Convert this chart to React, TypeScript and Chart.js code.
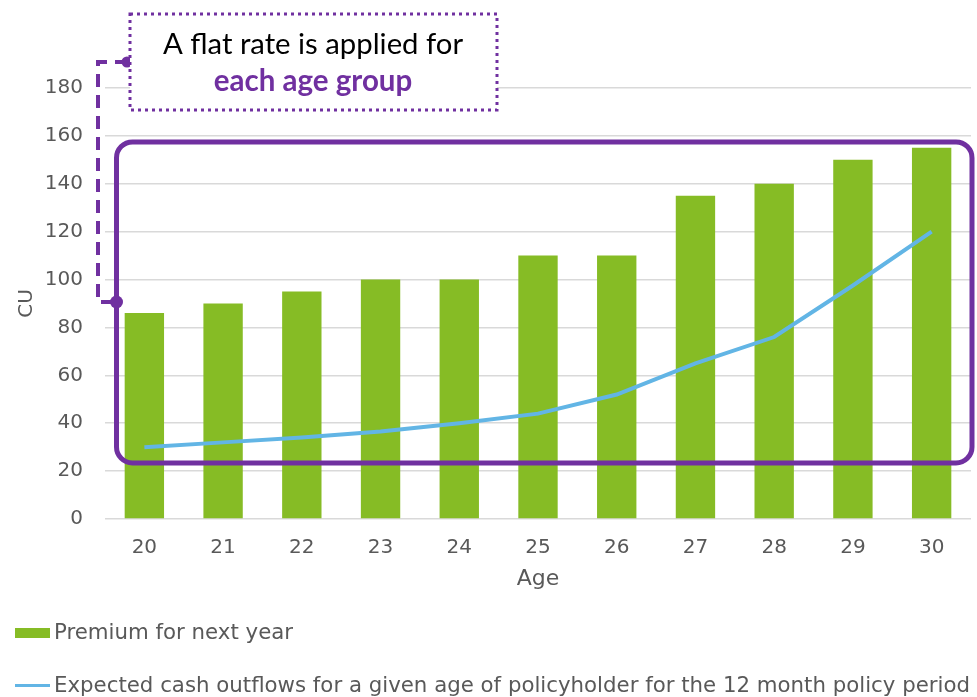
import React, { useEffect, useRef } from "react";
import { Chart, registerables } from "chart.js";

Chart.register(...registerables);

// ---- data ----
const ages = ["20", "21", "22", "23", "24", "25", "26", "27", "28", "29", "30"];
const premium = [86, 90, 95, 100, 100, 110, 110, 135, 140, 150, 155];
const outflows = [30, 32, 34, 36.5, 40, 44, 52, 65, 76, 97.5, 120];
const premiumLabel = "Premium for next year";
const outflowLabel =
  "Expected cash outflows for a given age of policyholder for the 12 month policy period";
const yTitle = "CU";
const xTitle = "Age";
const yMin = 0;
const yMax = 180;
const yStep = 20;
const noteLine1 = "A flat rate is applied for";
const noteLine2 = "each age group";
const boxTopValue = 157.5;
const boxBottomValue = 23.4;

// ---- styles ----
const GREEN = "#86BC25";
const BLUE = "#62B5E5";
const PURPLE = "#7030A0";
const GRAY = "#595959";
const GRID = "#D9D9D9";

const annotationPlugin = {
  id: "flatRateAnnotation",
  afterDatasetsDraw(chart: any) {
    const { ctx, chartArea, scales } = chart;
    const y = scales.y;
    ctx.save();
    // big rounded rectangle
    const top = y.getPixelForValue(boxTopValue);
    const bottom = y.getPixelForValue(boxBottomValue);
    const left = chartArea.left + 11.5;
    const right = chartArea.right + 1;
    ctx.strokeStyle = PURPLE;
    ctx.lineWidth = 5;
    ctx.beginPath();
    ctx.roundRect(left, top, right - left, bottom - top, 16);
    ctx.stroke();

    // dashed elbow connector
    const dotY = 302;
    ctx.lineWidth = 4;
    ctx.setLineDash([13, 8]);
    ctx.beginPath();
    ctx.moveTo(128, 62);
    ctx.lineTo(98, 62);
    ctx.lineTo(98, dotY);
    ctx.lineTo(left, dotY);
    ctx.stroke();
    ctx.setLineDash([]);
    ctx.fillStyle = PURPLE;
    ctx.beginPath();
    ctx.arc(left, dotY, 6.5, 0, Math.PI * 2);
    ctx.fill();
    ctx.beginPath();
    ctx.arc(127, 62, 5.5, 0, Math.PI * 2);
    ctx.fill();

    // dotted note box
    ctx.fillStyle = "#FFFFFF";
    ctx.fillRect(130, 14, 367, 96);
    ctx.strokeStyle = PURPLE;
    ctx.lineWidth = 3;
    ctx.setLineDash([3, 4]);
    ctx.strokeRect(130, 14, 367, 96);
    ctx.setLineDash([]);

    ctx.textAlign = "center";
    ctx.textBaseline = "alphabetic";
    ctx.fillStyle = "#000000";
    ctx.font = "29.3px Lato, 'Open Sans', sans-serif";
    ctx.fillText(noteLine1, 313, 54);
    ctx.fillStyle = PURPLE;
    ctx.font = "bold 29.5px Lato, 'Open Sans', sans-serif";
    ctx.fillText(noteLine2, 313, 91);
    ctx.restore();
  },
};

export default function App() {
  const ref = useRef<HTMLCanvasElement | null>(null);

  useEffect(() => {
    document.body.style.margin = "0";
    const canvas = ref.current;
    if (!canvas) return;
    const chart = new Chart(canvas, {
      type: "bar",
      data: {
        labels: ages,
        datasets: [
          {
            type: "line",
            label: outflowLabel,
            data: outflows,
            borderColor: BLUE,
            backgroundColor: BLUE,
            borderWidth: 4,
            pointRadius: 0,
            tension: 0,
            order: 0,
          } as any,
          {
            type: "bar",
            label: premiumLabel,
            data: premium,
            backgroundColor: GREEN,
            borderWidth: 0,
            barPercentage: 0.5,
            categoryPercentage: 1,
            order: 1,
          },
        ],
      },
      options: {
        responsive: false,
        animation: false,
        devicePixelRatio: 1,
        layout: { padding: { top: 88, right: 6, bottom: 100, left: 0 } },
        plugins: {
          legend: { display: false },
          tooltip: { enabled: false },
        },
        scales: {
          x: {
            grid: { display: false, drawTicks: false },
            border: { display: false },
            ticks: {
              color: GRAY,
              padding: 17,
              font: { family: "'DejaVu Sans', Verdana, sans-serif", size: 20 },
            },
            title: {
              display: true,
              text: xTitle,
              color: GRAY,
              padding: { top: 0, bottom: 5 },
              font: { family: "'DejaVu Sans', Verdana, sans-serif", size: 22 },
            },
            afterFit(s: any) {
              s.height = 78;
            },
          },
          y: {
            min: yMin,
            max: yMax,
            grid: { color: GRID, lineWidth: 1.5, drawTicks: false },
            border: { display: false },
            ticks: {
              stepSize: yStep,
              color: GRAY,
              padding: 22,
              font: { family: "'DejaVu Sans', Verdana, sans-serif", size: 20 },
            },
            title: {
              display: true,
              text: yTitle,
              color: GRAY,
              padding: { top: 15, bottom: 0 },
              font: { family: "'DejaVu Sans', Verdana, sans-serif", size: 20 },
            },
            afterFit(s: any) {
              s.width = 105;
            },
          },
        },
      },
      plugins: [annotationPlugin],
    });
    return () => chart.destroy();
  }, []);

  const legendFont: React.CSSProperties = {
    fontFamily: "'DejaVu Sans', sans-serif",
    fontSize: 21.3,
    color: GRAY,
    position: "absolute",
    left: 54,
    whiteSpace: "nowrap",
    lineHeight: "24px",
  };

  return (
    <div style={{ position: "relative", width: 977, height: 697, background: "#fff" }}>
      <canvas ref={ref} width={977} height={697} style={{ display: "block" }} />
      <div style={{ position: "absolute", left: 15, top: 628, width: 35, height: 10, background: GREEN }} />
      <div style={{ ...legendFont, top: 620 }}>{premiumLabel}</div>
      <div style={{ position: "absolute", left: 15, top: 683.5, width: 35, height: 3, background: BLUE }} />
      <div style={{ ...legendFont, top: 673 }}>{outflowLabel}</div>
    </div>
  );
}
